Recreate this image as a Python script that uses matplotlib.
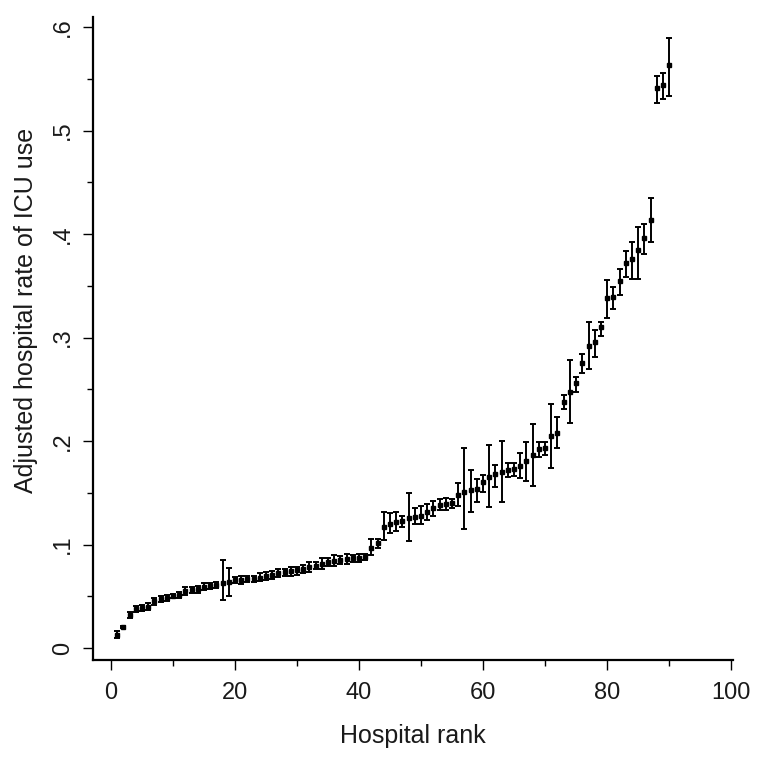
import matplotlib
matplotlib.use("Agg")
import matplotlib.pyplot as plt
from matplotlib.ticker import MultipleLocator
import numpy as np

plt.rcParams['font.family'] = ['Liberation Sans', 'DejaVu Sans']

rank = list(range(1, 91))
rate = [0.013, 0.020, 0.032, 0.038, 0.039, 0.040, 0.045, 0.047, 0.048, 0.050,
        0.051, 0.055, 0.056, 0.057, 0.059, 0.060, 0.061, 0.063, 0.064, 0.066,
        0.066, 0.067, 0.067, 0.068, 0.070, 0.071, 0.072, 0.073, 0.074, 0.075,
        0.076, 0.078, 0.079, 0.081, 0.083, 0.084, 0.085, 0.086, 0.087, 0.087,
        0.088, 0.097, 0.101, 0.117, 0.120, 0.122, 0.123, 0.126, 0.127, 0.128,
        0.131, 0.135, 0.138, 0.139, 0.140, 0.148, 0.151, 0.153, 0.154, 0.160,
        0.165, 0.168, 0.170, 0.172, 0.173, 0.176, 0.181, 0.186, 0.192, 0.193,
        0.205, 0.208, 0.238, 0.247, 0.256, 0.275, 0.292, 0.296, 0.310, 0.338,
        0.339, 0.355, 0.372, 0.376, 0.385, 0.396, 0.414, 0.541, 0.544, 0.563]
lower = [0.010, 0.019, 0.029, 0.035, 0.036, 0.037, 0.042, 0.044, 0.045, 0.048,
         0.048, 0.051, 0.053, 0.053, 0.056, 0.057, 0.058, 0.046, 0.050, 0.063,
         0.062, 0.064, 0.064, 0.065, 0.066, 0.067, 0.069, 0.070, 0.070, 0.071,
         0.072, 0.073, 0.076, 0.076, 0.079, 0.079, 0.081, 0.081, 0.083, 0.083,
         0.085, 0.090, 0.097, 0.104, 0.111, 0.113, 0.117, 0.103, 0.120, 0.120,
         0.124, 0.128, 0.133, 0.133, 0.135, 0.137, 0.115, 0.131, 0.141, 0.151,
         0.136, 0.156, 0.141, 0.165, 0.166, 0.164, 0.161, 0.157, 0.185, 0.186,
         0.174, 0.193, 0.231, 0.217, 0.247, 0.266, 0.270, 0.281, 0.301, 0.319,
         0.328, 0.341, 0.358, 0.357, 0.357, 0.381, 0.392, 0.527, 0.530, 0.533]
upper = [0.016, 0.021, 0.035, 0.041, 0.042, 0.043, 0.048, 0.050, 0.051, 0.052,
         0.054, 0.059, 0.059, 0.060, 0.063, 0.063, 0.064, 0.085, 0.077, 0.069,
         0.070, 0.070, 0.070, 0.072, 0.073, 0.074, 0.076, 0.076, 0.078, 0.078,
         0.080, 0.083, 0.083, 0.087, 0.087, 0.090, 0.089, 0.091, 0.090, 0.091,
         0.091, 0.105, 0.105, 0.131, 0.130, 0.131, 0.128, 0.150, 0.135, 0.137,
         0.139, 0.142, 0.144, 0.145, 0.144, 0.159, 0.193, 0.172, 0.163, 0.167,
         0.196, 0.177, 0.200, 0.179, 0.179, 0.188, 0.199, 0.216, 0.199, 0.199,
         0.236, 0.223, 0.244, 0.278, 0.262, 0.284, 0.315, 0.307, 0.315, 0.356,
         0.349, 0.366, 0.384, 0.392, 0.407, 0.410, 0.435, 0.553, 0.556, 0.589]

x_ticks = [0, 20, 40, 60, 80, 100]
y_ticks = [0, 0.1, 0.2, 0.3, 0.4, 0.5, 0.6]
y_tick_labels = ["0", ".1", ".2", ".3", ".4", ".5", ".6"]

txt = '#1a1a1a'
fig = plt.figure(figsize=(7.64, 7.63), dpi=100)
ax = fig.add_axes([93/764, 1 - 660/763, (733 - 93)/764, (660 - 17)/763])

r = np.array(rank)
v = np.array(rate)
lo = np.array(lower)
hi = np.array(upper)
ax.errorbar(r, v, yerr=[v - lo, hi - v], fmt='none', ecolor='black',
            elinewidth=1.4, capsize=2.4, capthick=1.4)
ax.plot(r, v, linestyle='none', marker='s', markersize=2.2, color='black')

ax.set_xlim(-2.9, 100.3)
ax.set_ylim(-0.0116, 0.6097)
ax.set_xticks(x_ticks)
ax.xaxis.set_minor_locator(MultipleLocator(10))
ax.set_yticks(y_ticks)
ax.set_yticklabels(y_tick_labels)
ax.yaxis.set_minor_locator(MultipleLocator(0.05))

for s in ['top', 'right']:
    ax.spines[s].set_visible(False)
for s in ['left', 'bottom']:
    ax.spines[s].set_linewidth(1.6)

ax.tick_params(which='major', length=7.5, width=1.0, colors='black',
               labelsize=17, labelcolor=txt)
ax.tick_params(which='minor', length=4, width=1.0, colors='black')
ax.tick_params(axis='x', which='major', pad=8)
ax.tick_params(axis='y', which='major', pad=6, labelrotation=90)
for lab in ax.get_yticklabels():
    lab.set_va('center')

ax.set_xlabel('Hospital rank', fontsize=18, color=txt, labelpad=15)
ax.set_ylabel('Adjusted hospital rate of ICU use', fontsize=18, color=txt, labelpad=10)
ax.yaxis.label.set_y(0.544)

fig.savefig('out.png', dpi=100)
